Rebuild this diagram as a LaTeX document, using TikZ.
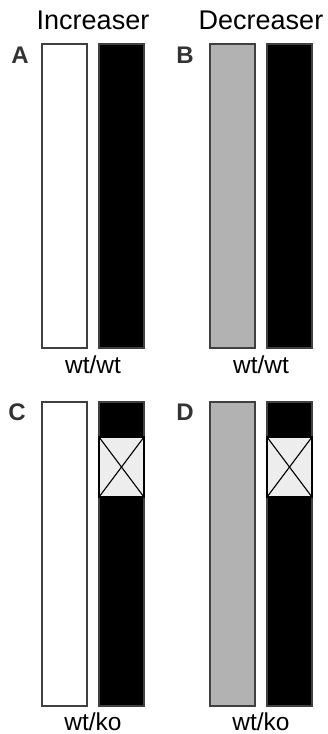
\documentclass[tikz,border=0pt]{standalone}
\usepackage{fontspec}
\setmainfont{Liberation Sans}
\begin{document}
\begin{tikzpicture}[x=1pt,y=-1pt,
  bar/.style={draw=black!75,line width=1.1pt,inner sep=0pt,outer sep=0pt,minimum width=45pt,minimum height=304pt},
  kobox/.style={draw=black,line width=1.1pt,fill=black!7,inner sep=0pt,outer sep=0pt,minimum width=45pt,minimum height=60pt},
  title/.style={anchor=base,inner sep=0pt,font=\fontsize{27}{30}\selectfont},
  geno/.style={anchor=base,inner sep=0pt,font=\fontsize{24.5}{28}\selectfont},
  panel/.style={anchor=base,inner sep=0pt,font=\fontsize{24}{28}\selectfont\bfseries,text=black!80}]
\useasboundingbox (0,0) rectangle (327,734);
% titles
\node[title] (t1) at (93,29) {Increaser};
\node[title] (t2) at (261,29) {Decreaser};
% panel A
\node[panel] (la) at (20,63) {A};
\node[bar,fill=white] (a1) at (64.5,196) {};
\node[bar,fill=black] (a2) at (121.5,196) {};
\node[geno] (ga) at (93,373) {wt/wt};
% panel B
\node[panel] (lb) at (185,63) {B};
\node[bar,fill=black!30] (b1) at (232.5,196) {};
\node[bar,fill=black] (b2) at (289.5,196) {};
\node[geno] (gb) at (261,373) {wt/wt};
% panel C
\node[panel] (lc) at (17,420) {C};
\node[bar,fill=white] (c1) at (64.5,554) {};
\node[bar,fill=black] (c2) at (121.5,554) {};
\node[kobox] (ck) at (121.5,467) {};
\draw[line width=1.1pt] (ck.north west) -- (ck.south east);
\draw[line width=1.1pt] (ck.north east) -- (ck.south west);
\node[geno] (gc) at (93,730) {wt/ko};
% panel D
\node[panel] (ld) at (185,420) {D};
\node[bar,fill=black!30] (d1) at (232.5,554) {};
\node[bar,fill=black] (d2) at (289.5,554) {};
\node[kobox] (dk) at (289.5,467) {};
\draw[line width=1.1pt] (dk.north west) -- (dk.south east);
\draw[line width=1.1pt] (dk.north east) -- (dk.south west);
\node[geno] (gd) at (261,730) {wt/ko};
\end{tikzpicture}
\end{document}
